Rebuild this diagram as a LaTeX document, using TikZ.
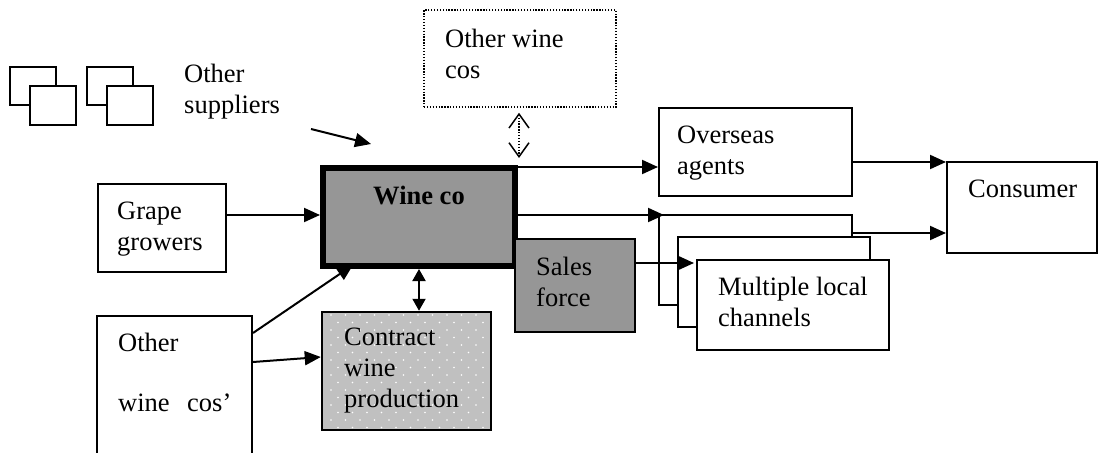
\documentclass[tikz,border=0pt]{standalone}
\usepackage{fontspec}
\setmainfont{Liberation Serif}
\usetikzlibrary{arrows.meta,calc}
\definecolor{firmgray}{RGB}{150,150,150}
\definecolor{contractgray}{RGB}{192,192,192}

\begin{document}
\begin{tikzpicture}[x=1pt,y=-1pt,
  box/.style={draw, rectangle, line width=2pt, inner sep=0pt, fill=white},
  lbl/.style={font=\fontsize{26.5pt}{31pt}\selectfont, inner sep=0pt, anchor=base west, align=left},
  arr/.style={line width=2pt, -{Triangle[length=16pt,width=14pt]}},
  small/.style={draw, line width=2pt, fill=white}
]
\useasboundingbox (0,0) rectangle (1099,452);
\clip (0,0) rectangle (1099,452);
\fill[white] (0,0) rectangle (1099,452);

% other suppliers: two stacked pairs of cards
\draw[small] (10,67) rectangle (56,105);
\draw[small] (30,86) rectangle (76,125);
\draw[small] (87,67) rectangle (133,105);
\draw[small] (107,86) rectangle (153,125);

% boxes
\node[box, minimum width=128pt, minimum height=88pt] (grape) at (162,228) {};
\node[box, line width=6pt, fill=firmgray, minimum width=192pt, minimum height=98pt] (wine) at (419,217) {};
\node[box, line width=1.5pt, dash pattern=on 1.3pt off 1.6pt, minimum width=192pt, minimum height=97pt] (othercos) at (520,58.5) {};
\node[box, minimum width=193pt, minimum height=88pt] (overseas) at (755.5,152) {};
\node[box, minimum width=150pt, minimum height=91pt] (consumer) at (1022,207.5) {};
\node[box, minimum width=193pt, minimum height=90pt] (chanA) at (755.5,260) {};
\node[box, minimum width=192pt, minimum height=90pt] (chanB) at (774,282) {};
\node[box, minimum width=192pt, minimum height=90pt] (chanC) at (793,305) {};
\node[box, fill=firmgray, minimum width=120pt, minimum height=93pt] (sales) at (575,285.5) {};
\node[box, line width=2.5pt, fill=contractgray, minimum width=169pt, minimum height=118pt] (contract) at (406.5,371) {};
\node[box, minimum width=155pt, minimum height=164pt] (rivals) at (174.5,398) {};

% dotted texture of the contract box
\begin{scope}
  \clip (324,314) rectangle (489,429);
  \foreach \i in {0,...,11}{
    \foreach \j in {0,...,7}{
      \fill[white] (331+14.5*\i,315+15*\j) circle (0.9pt);
      \fill[white] (338+14.5*\i,322.5+15*\j) circle (0.9pt);
    }
  }
\end{scope}

% texts (anchored at the baseline of their last line)
\node[lbl] (tSup) at (184,113) {Other\\suppliers};
\node[lbl] (tOcos) at (445,78) {Other wine\\cos};
\node[lbl, anchor=base, font=\fontsize{26.5pt}{31pt}\selectfont\bfseries] (tWine) at (419,204) {Wine co};
\node[lbl] (tOver) at (677,174) {Overseas\\agents};
\node[lbl] (tCons) at (968,197) {Consumer};
\node[lbl] (tGrape) at (117,250) {Grape\\growers};
\node[lbl] (tSales) at (536,306) {Sales\\force};
\node[lbl] (tMult) at (718,326) {Multiple local\\channels};
\node[lbl] (tContract) at (344,407) {Contract\\wine\\production};
\node[lbl] (tRival) at (118,411) {Other\\[29pt]wine\hspace{17.5pt}cos’};

% connectors
\coordinate (supFrom) at (311,129);
\coordinate (supTo) at (371,144);
\draw[arr] (supFrom) -- (supTo);
\draw[arr] (grape.east |- 0,215) -- (wine.west |- 0,215);
\draw[arr] (wine.east |- 0,167) -- (overseas.west |- 0,167);
\draw[arr] (wine.east |- 0,215) -- ([xshift=6pt]chanA.west |- 0,215);
\draw[arr] (chanA.east |- 0,233) -- (consumer.west |- 0,233);
\draw[arr] (overseas.east |- 0,162) -- (consumer.west |- 0,162);
\draw[arr] (sales.east |- 0,263) -- ([xshift=-2pt]chanC.west |- 0,263);
\draw[arr] (rivals.east |- 0,333) -- ($(wine.south west)+(33,-4)$);
\draw[arr] (rivals.east |- 0,362) -- (contract.west |- 0,357);
\draw[line width=2pt, {Triangle[length=12pt,width=13pt]}-{Triangle[length=12pt,width=13pt]}]
  (wine.south) -- (wine.south |- contract.north);
\draw[line width=1.5pt, dash pattern=on 1.3pt off 1.6pt,
  {Straight Barb[length=14pt,width=20pt,line width=1.5pt]}-{Straight Barb[length=14pt,width=20pt,line width=1.5pt]}]
  ($(othercos.south)+(-1,5)$) -- ($(wine.north east)+(1,-7)$);
\end{tikzpicture}
\end{document}
